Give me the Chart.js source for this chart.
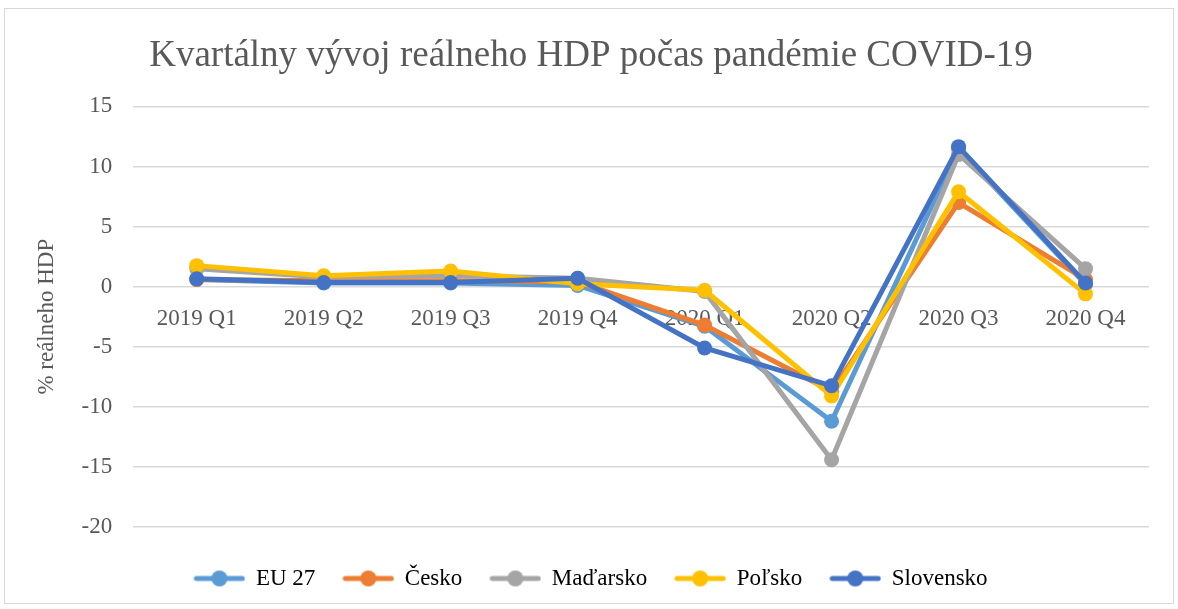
<!DOCTYPE html>
<html>
<head>
<meta charset="utf-8">
<script src="https://cdn.jsdelivr.net/npm/chart.js@4.4.1/dist/chart.umd.min.js"></script>
<style>
html,body{margin:0;padding:0;background:#fff;}
#wrap{position:absolute;left:4px;top:8px;width:1170px;height:596px;border:1px solid #d9d9d9;box-sizing:border-box;}
canvas{display:block;}
</style>
</head>
<body>
<div id="wrap"><canvas id="c" width="1168" height="594"></canvas></div>
<script>
const categories = ["2019 Q1","2019 Q2","2019 Q3","2019 Q4","2020 Q1","2020 Q2","2020 Q3","2020 Q4"];
const seriesNames = ["EU 27","Česko","Maďarsko","Poľsko","Slovensko"];
const eu27 = [0.6, 0.3, 0.3, 0.1, -3.3, -11.2, 11.5, 0.2];
const cesko = [0.6, 0.5, 0.5, 0.4, -3.2, -8.7, 7.0, 0.6];
const madarsko = [1.5, 0.8, 0.9, 0.7, -0.4, -14.4, 11.0, 1.5];
const polsko = [1.75, 0.9, 1.3, 0.25, -0.3, -9.1, 7.9, -0.6];
const slovensko = [0.65, 0.35, 0.35, 0.7, -5.1, -8.25, 11.65, 0.3];
const yTicks = [15, 10, 5, 0, -5, -10, -15, -20];
const colors = ["#5B9BD5","#ED7D31","#A5A5A5","#FFC000","#4472C4"];

const values = [eu27, cesko, madarsko, polsko, slovensko];
const serif = "'Liberation Serif', 'DejaVu Serif', serif";

function legendIcon(color){
  const cv = document.createElement('canvas');
  cv.width = 52; cv.height = 18;
  const g = cv.getContext('2d');
  g.strokeStyle = color; g.lineWidth = 5; g.lineCap = 'round';
  g.beginPath(); g.moveTo(3,9); g.lineTo(49,9); g.stroke();
  g.fillStyle = color; g.beginPath(); g.arc(26,9,8,0,Math.PI*2); g.fill();
  return cv;
}
const icons = colors.map(legendIcon);

const datasets = seriesNames.map((n,i)=>({
  label:n, data:values[i], borderColor:colors[i], backgroundColor:colors[i],
  borderWidth:5, pointRadius:7.5, pointHoverRadius:7.5, pointBorderWidth:0,
  tension:0, fill:false, order: seriesNames.length - i
}));

new Chart(document.getElementById('c'), {
  type:'line',
  data:{labels:categories, datasets},
  options:{
    responsive:false, animation:false,
    layout:{padding:{left:28,right:24,top:0,bottom:3}},
    plugins:{
      title:{display:true, text:"Kvartálny vývoj reálneho HDP počas pandémie COVID-19",
        color:'#595959', font:{family:serif,size:37,weight:'normal'}, padding:{top:25,bottom:28}},
      legend:{position:'bottom',
        labels:{color:'#595959', font:{family:serif,size:23}, usePointStyle:true, pointStyleWidth:50, boxHeight:18, padding:28,
          generateLabels:(chart)=>chart.data.datasets.map((d,i)=>({text:d.label, fillStyle:colors[i], strokeStyle:colors[i], lineWidth:0, pointStyle:icons[i], datasetIndex:i, hidden:false}))
        }},
      tooltip:{enabled:false}
    },
    scales:{
      x:{position:{y:0}, offset:true, grid:{display:false}, border:{display:false},
        ticks:{color:'#595959', font:{family:serif,size:23}, padding:10, maxRotation:0}},
      x2:{type:'category', labels:categories, position:'bottom', offset:true, grid:{display:false}, border:{display:false},
        ticks:{display:false}, afterFit:(s)=>{s.height=12;}},
      y:{min:-20, max:15, afterBuildTicks:(s)=>{s.ticks=yTicks.map(v=>({value:v}));},
        grid:{color:'#d9d9d9', lineWidth:1.5, drawTicks:false}, border:{display:false},
        ticks:{color:'#595959', font:{family:serif,size:23}, padding:21},
        title:{display:true, text:'% reálneho HDP', color:'#595959', font:{family:serif,size:23}, padding:{top:0,bottom:0}}
      }
    }
  }
});
</script>
</body>
</html>
